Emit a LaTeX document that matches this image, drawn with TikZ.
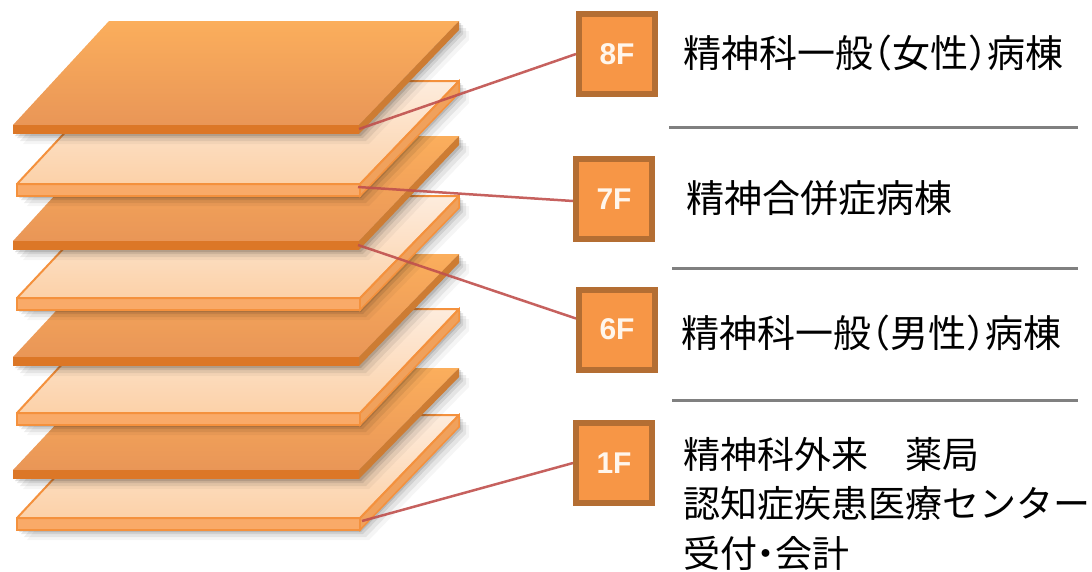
\documentclass[tikz,border=0pt]{standalone}
\usepackage{fontspec}
\setmainfont{Liberation Sans}
\newfontfamily\jp{Noto Sans CJK JP}
\newfontfamily\jphalf[RawFeature=+halt]{Noto Sans CJK JP}
\usetikzlibrary{calc}

\definecolor{dkTop}{HTML}{FBAE5C}
\definecolor{dkFront}{HTML}{E99657}
\definecolor{dkEdge}{HTML}{DC7727}
\definecolor{dkSide}{HTML}{CD7C33}
\definecolor{ltBack}{HTML}{FDECDD}
\definecolor{ltFront}{HTML}{FCD1A8}
\definecolor{ltLine}{HTML}{F4913D}
\definecolor{ltEdge}{HTML}{F9AA68}
\definecolor{ltSide}{HTML}{F0A15C}
\definecolor{boxFill}{HTML}{F79646}
\definecolor{boxLine}{HTML}{B46E33}
\definecolor{boxText}{HTML}{FFF6EC}
\definecolor{linkRed}{HTML}{C0504D}
\definecolor{ruleGray}{HTML}{808080}

\pgfdeclarelayer{slabs}
\pgfdeclarelayer{links}
\pgfsetlayers{slabs,links,main}

% soft drop shadow of a slab: #1 back y, #2 front y, #3 front-left x, #4 thickness
\newcommand\slabshadow[4]{%
  \foreach \s/\o in {2/0.12,4/0.09,7/0.07,10/0.04}{%
    \fill[black,opacity=\o] (#3+96+\s,#1+\s) -- (459+\s,#1+\s) -- (459+\s,#1+#4+\s)
      -- (359+\s,#2+#4+\s) -- (#3+\s,#2+#4+\s) -- cycle;
  }}

% solid orange floor slab: #1 back y, #2 front y
\newcommand\darkslab[2]{%
  \slabshadow{#1}{#2}{13}{9}
  \shade[top color=dkTop,bottom color=dkFront] (109,#1) -- (459,#1) -- (359,#2) -- (13,#2) -- cycle;
  \fill[dkSide] (359,#2) -- (459,#1) -- (459,#1+9) -- (359,#2+9) -- cycle;
  \fill[dkEdge] (13,#2) rectangle (359,#2+9);
}

% pale floor slab with orange rim: #1 back y, #2 front y
\newcommand\lightslab[2]{%
  \slabshadow{#1}{#2}{17}{12}
  \shade[top color=ltBack,bottom color=ltFront] (113,#1) -- (459,#1) -- (360,#2) -- (17,#2) -- cycle;
  \filldraw[fill=ltSide,draw=ltLine,line width=1.5] (360,#2) -- (459,#1) -- (459,#1+12) -- (360,#2+12) -- cycle;
  \filldraw[fill=ltEdge,draw=ltLine,line width=1.5] (17,#2) rectangle (360,#2+12);
  \draw[ltLine,line width=2,line join=round] (113,#1) -- (459,#1) -- (360,#2) -- (17,#2) -- cycle;
}

\tikzset{
  floorbox/.style={draw=boxLine,fill=boxFill,line width=6,minimum width=76,minimum height=80,
    inner sep=0,text=boxText,font=\fontsize{30}{30}\selectfont\bfseries},
  link/.style={draw=linkRed,line width=2.5,opacity=0.9},
  sep/.style={draw=ruleGray,line width=3},
  roomtext/.style={anchor=west,inner sep=0,font=\jp\fontsize{38}{38}\selectfont},
  roomhalf/.style={anchor=west,inner sep=0,font=\jphalf\fontsize{38}{38}\selectfont},
  roomsmall/.style={anchor=west,inner sep=0,font=\jp\fontsize{37}{37}\selectfont},
  roomsmallhalf/.style={anchor=west,inner sep=0,font=\jphalf\fontsize{37}{37}\selectfont}
}

\begin{document}
\begin{tikzpicture}[x=1pt,y=-1pt]
\useasboundingbox (0,0) rectangle (1092,571);

% the stack, lowest floor first
\begin{pgfonlayer}{slabs}
\lightslab{415}{518}
\darkslab{368}{470}
\lightslab{309}{413}
\darkslab{254}{357}
\lightslab{196}{298}
\darkslab{136}{241}
\lightslab{81}{184}
\darkslab{21}{125}
\end{pgfonlayer}

% slab corners the leaders start from
\coordinate (s8) at (359,129);
\coordinate (s7) at (358,187);
\coordinate (s6) at (358,245);
\coordinate (s1) at (362,521);

% floor number boxes
\node[floorbox] (f8) at (617,54) {8F};
\node[floorbox] (f7) at (614,199) {7F};
\node[floorbox] (f6) at (617,329.5) {6F};
\node[floorbox] (f1) at (614,463) {1F};

% leaders from slabs to boxes
\begin{pgfonlayer}{links}
\draw[link] (s8) -- (f8.west);
\draw[link] (s7) -- ($(f7.west)+(0,2)$);
\draw[link] (s6) -- ($(f6.west)+(0,-11)$);
\draw[link] (s1) -- (f1.west);
\end{pgfonlayer}

% separators between floors
\draw[sep] (669,127) -- (1078,127);
\draw[sep] (672,268) -- (1078,268);
\draw[sep] (672,400) -- (1078,400);

% floor descriptions
\node[roomhalf] (t8) at (683,53) {精神科一般（女性）病棟};
\node[roomtext] (t7) at (686,198) {精神合併症病棟};
\node[roomhalf] (t6) at (681,333) {精神科一般（男性）病棟};
\node[roomsmall] (t1a) at (683,454) {精神科外来　薬局};
\node[roomsmall] (t1b) at (683,503) {認知症疾患医療センター};
\node[roomsmallhalf] (t1c) at (683,553) {受付・会計};
\end{tikzpicture}
\end{document}
